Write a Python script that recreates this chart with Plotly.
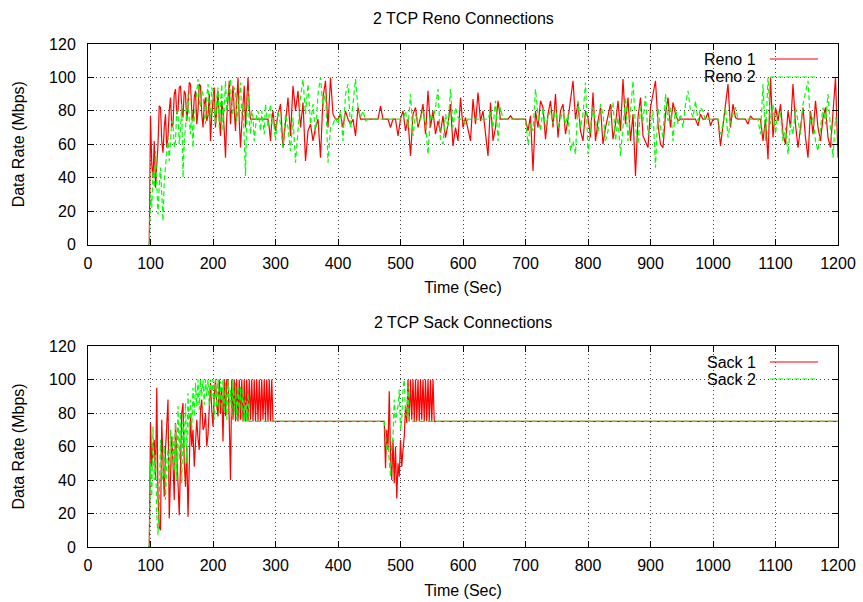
import plotly.graph_objects as go

# ---- measured throughput samples (Mbps) ----
# Reno run: 2 s samples through the start-up phase, 4 s samples afterwards
reno_t = list(range(96, 300, 2)) + list(range(300, 1201, 4))

reno1 = [
    0, 0, 77, 48, 40, 62, 34, 45, 60, 83,          # 96-114
    82, 62, 55, 70, 78, 58, 65, 80, 88, 70,        # 116-134
    72, 90, 93, 78, 80, 94, 95, 82, 76, 92,        # 136-154
    90, 74, 82, 97, 96, 80, 74, 88, 92, 72,        # 156-174
    80, 96, 95, 78, 70, 84, 88, 74, 77, 90,        # 176-194
    62, 78, 85, 94, 70, 80, 92, 75, 65, 86,        # 196-214
    80, 68, 52, 76, 88, 98, 72, 84, 95, 80,        # 216-234
    68, 86, 100, 74, 58, 72, 85, 95, 70, 82,       # 236-254
    100, 82, 75, 75, 75, 75, 75, 75, 75, 75,       # 256-274
    75, 75, 75, 75, 75, 75, 75, 70, 62, 74,        # 276-294
    80, 72,                                        # 296-298
    68, 78, 84, 58, 72, 88, 65, 95, 80, 92, 70, 85, 50, 68, 72, 62, 70, 75, 52, 88, 98, 70, 100, 78, 75,  # 300-396
    75, 78, 70, 80, 75, 72, 75, 65, 82, 75, 75, 75, 75, 75, 75, 75, 75, 83, 75, 75, 75, 70, 75, 75, 65,  # 400-496
    75, 80, 68, 75, 53, 78, 82, 70, 76, 84, 66, 92, 70, 80, 66, 74, 67, 77, 64, 72, 84, 59, 70, 62, 88,  # 500-596
    70, 76, 68, 62, 87, 72, 91, 74, 80, 66, 53, 85, 62, 70, 86, 75, 75, 75, 75, 77, 75, 75, 75, 75, 75,  # 600-696
    75, 68, 77, 44, 80, 70, 86, 82, 63, 78, 86, 70, 90, 64, 80, 84, 66, 75, 88, 98, 75, 85, 68, 62, 80,  # 700-796
    76, 64, 91, 62, 74, 82, 60, 70, 78, 84, 63, 72, 86, 68, 99, 72, 88, 62, 78, 41, 76, 88, 65, 62, 58,  # 800-896
    82, 90, 98, 72, 60, 58, 78, 88, 70, 85, 78, 74, 75, 75, 75, 75, 75, 75, 75, 71, 78, 75, 75, 79, 71,  # 900-996
    75, 75, 75, 59, 72, 86, 96, 70, 84, 76, 75, 75, 75, 75, 72, 77, 75, 75, 75, 75, 62, 75, 51, 100, 64,  # 1000-1096
    82, 74, 84, 66, 60, 80, 70, 96, 72, 58, 70, 82, 64, 52, 80, 66, 86, 70, 62, 76, 82, 64, 58, 78, 100, 52,  # 1100-1200
]

reno2 = [
    0, 0, 30, 22, 44, 34, 56, 40, 18, 35,          # 96-114
    46, 30, 14, 38, 48, 56, 64, 50, 60, 74,        # 116-134
    72, 58, 62, 80, 78, 60, 68, 84, 40, 62,        # 136-154
    70, 82, 90, 74, 66, 80, 58, 76, 85, 94,        # 156-174
    99, 86, 82, 92, 90, 78, 72, 88, 96, 84,        # 176-194
    76, 94, 90, 80, 72, 88, 94, 70, 82, 96,        # 196-214
    68, 84, 98, 80, 86, 92, 99, 76, 80, 94,        # 216-234
    92, 74, 80, 88, 97, 78, 84, 66, 41, 78,        # 236-254
    92, 74, 66, 80, 76, 62, 70, 78, 80, 72,        # 256-274
    68, 80, 72, 66, 84, 74, 70, 78, 84, 72,        # 276-294
    76, 70,                                        # 296-298
    62, 80, 72, 58, 78, 70, 56, 76, 49, 68, 88, 99, 78, 96, 72, 84, 66, 90, 100, 82, 92, 49, 70, 72, 76,  # 300-396
    72, 80, 62, 90, 96, 70, 84, 99, 82, 76, 80, 74, 75, 75, 75, 75, 75, 75, 75, 75, 75, 75, 75, 75, 75,  # 400-496
    75, 75, 80, 70, 90, 65, 78, 72, 75, 80, 72, 54, 78, 75, 82, 93, 62, 60, 78, 70, 93, 70, 82, 76, 75,  # 500-596
    75, 72, 75, 75, 75, 75, 75, 75, 75, 75, 75, 80, 70, 86, 62, 82, 75, 75, 75, 75, 75, 75, 75, 75, 75,  # 600-696
    75, 60, 72, 68, 93, 78, 68, 82, 70, 76, 80, 72, 82, 70, 75, 80, 72, 78, 56, 62, 54, 86, 70, 78, 97,  # 700-796
    54, 70, 82, 74, 66, 84, 78, 62, 68, 80, 85, 62, 76, 53, 72, 88, 62, 80, 98, 70, 60, 82, 74, 89, 66,  # 800-896
    70, 80, 46, 82, 70, 64, 90, 74, 82, 62, 82, 72, 78, 70, 84, 92, 80, 76, 86, 74, 82, 80, 74, 75, 75,  # 900-996
    75, 75, 75, 66, 72, 82, 64, 74, 78, 82, 75, 75, 75, 75, 75, 75, 75, 75, 75, 66, 96, 62, 100, 72, 84,  # 1000-1096
    66, 80, 78, 62, 70, 54, 72, 66, 82, 74, 66, 84, 92, 98, 72, 76, 62, 56, 70, 82, 72, 90, 70, 52, 76, 70,  # 1100-1200
]

# Sack run: 2 s samples during the two transients, steady 75 Mbps elsewhere
sack_t = list(range(96, 301, 2)) + list(range(470, 561, 2)) + [1200]

sack1 = [
    0, 0, 74, 48, 60, 64, 40, 95, 30, 12,          # 96-114
    10, 76, 50, 30, 58, 70, 88, 17, 40, 66,        # 116-134
    50, 28, 74, 60, 38, 19, 55, 80, 86, 50,        # 136-154
    36, 60, 18, 45, 78, 60, 70, 48, 62, 76,        # 156-174
    65, 58, 82, 88, 70, 72, 80, 60, 67, 85,        # 176-194
    98, 82, 72, 90, 100, 85, 78, 100, 80, 95,      # 196-214
    63, 100, 78, 100, 100, 75, 40, 100, 76, 100,   # 216-234
    75, 100, 75, 100, 76, 100, 75, 100, 75, 100,   # 236-254
    75, 100, 76, 100, 75, 100, 75, 100, 75, 100,   # 256-274
    75, 100, 76, 100, 75, 100, 75, 100, 75, 100,   # 276-294
    75, 75, 75,                                    # 296-300
    75, 75, 75, 47, 70, 58, 93, 54, 40, 64,        # 470-488
    38, 60, 29, 50, 42, 64, 48, 58, 66, 84,        # 490-508
    74, 100, 75, 100, 76, 100, 75, 100, 75, 100,   # 510-528
    75, 100, 76, 100, 75, 100, 75, 100, 75, 100,   # 530-548
    75, 100, 75, 75, 75, 75,                       # 550-560
    75,                                            # 1200
]

sack2 = [
    0, 0, 50, 30, 72, 40, 55, 20, 7, 26,           # 96-114
    64, 45, 40, 60, 28, 50, 58, 44, 70, 48,        # 116-134
    66, 45, 74, 40, 84, 52, 80, 38, 75, 60,        # 136-154
    86, 50, 92, 66, 88, 70, 95, 78, 98, 84,        # 156-174
    100, 82, 100, 90, 100, 85, 100, 90, 100, 84,   # 176-194
    100, 88, 100, 76, 100, 84, 100, 80, 99, 82,    # 196-214
    100, 80, 98, 76, 100, 84, 94, 78, 100, 80,     # 216-234
    98, 76, 95, 80, 96, 76, 94, 75, 88, 75,        # 236-254
    92, 75, 75, 75, 75, 75, 75, 75, 75, 75,        # 256-274
    75, 75, 75, 75, 75, 75, 75, 75, 75, 75,        # 276-294
    75, 75, 75,                                    # 296-300
    75, 75, 75, 68, 58, 62, 54, 42, 60, 66,        # 470-488
    88, 74, 80, 84, 94, 70, 76, 94, 100, 80,       # 490-508
    78, 96, 75, 75, 75, 75, 75, 75, 75, 75,        # 510-528
    75, 75, 75, 75, 75, 75, 75, 75, 75, 75,        # 530-548
    75, 75, 75, 75, 75, 75,                        # 550-560
    75,                                            # 1200
]

assert len(reno1) == len(reno_t) and len(reno2) == len(reno_t)
assert len(sack1) == len(sack_t) and len(sack2) == len(sack_t)

# ---- page geometry ----
W, H = 863, 602
M = dict(l=88, r=25, t=44, b=55)
PW = W - M["l"] - M["r"]
PH = H - M["t"] - M["b"]


def paper_y(px):
    return (H - M["b"] - px) / PH


def paper_x(px):
    return (px - M["l"]) / PW


FONT = "Liberation Sans, Arial, sans-serif"
RED = "#ff0000"
GREEN = "#00ff00"
DASH = "5px,3px"

fig = go.Figure()
fig.add_trace(go.Scatter(x=reno_t, y=reno1, mode="lines", name="Reno 1",
                         line=dict(color=RED, width=1.2), xaxis="x", yaxis="y"))
fig.add_trace(go.Scatter(x=reno_t, y=reno2, mode="lines", name="Reno 2",
                         line=dict(color=GREEN, width=1.2, dash=DASH), xaxis="x", yaxis="y"))
fig.add_trace(go.Scatter(x=sack_t, y=sack1, mode="lines", name="Sack 1",
                         line=dict(color=RED, width=1.2), xaxis="x2", yaxis="y2"))
fig.add_trace(go.Scatter(x=sack_t, y=sack2, mode="lines", name="Sack 2",
                         line=dict(color=GREEN, width=1.2, dash=DASH), xaxis="x2", yaxis="y2"))

axis_style = dict(
    showline=True, linecolor="black", linewidth=1, mirror="ticks",
    ticks="inside", ticklen=6, tickcolor="black", tickwidth=1,
    showgrid=True, gridcolor="#444444", griddash="1px,3px", gridwidth=1,
    zeroline=False, automargin=False,
    tickfont=dict(family=FONT, size=16, color="black"),
)
xstyle = dict(axis_style, range=[0, 1200], tick0=0, dtick=100, ticklabelstandoff=4,
              title=dict(text="Time (Sec)", font=dict(family=FONT, size=16, color="black"), standoff=11))
ystyle = dict(axis_style, range=[0, 120], tick0=0, dtick=20, ticklabelstandoff=8,
              title=dict(text="Data Rate (Mbps)", font=dict(family=FONT, size=16, color="black"), standoff=20))

top_dom = [paper_y(244.5), 1]
bot_dom = [0, paper_y(346)]

fig.update_layout(
    width=W, height=H, margin=M, autosize=False,
    paper_bgcolor="white", plot_bgcolor="white",
    font=dict(family=FONT, size=16, color="black"),
    showlegend=False,
    xaxis=dict(xstyle, domain=[0, 1], anchor="y"),
    yaxis=dict(ystyle, domain=top_dom, anchor="x"),
    xaxis2=dict(xstyle, domain=[0, 1], anchor="y2"),
    yaxis2=dict(ystyle, domain=bot_dom, anchor="x2"),
)

annotations = [
    dict(text="2 TCP Reno Connections", x=0.5, y=paper_y(18)),
    dict(text="2 TCP Sack Connections", x=0.5, y=paper_y(322)),
]
shapes = []
# key entries: label right-aligned, line sample to its right
key_rows = [("Reno 1", RED, "solid", 59), ("Reno 2", GREEN, DASH, 77),
            ("Sack 1", RED, "solid", 362), ("Sack 2", GREEN, DASH, 379)]
for label, color, dash, row in key_rows:
    annotations.append(dict(text=label, x=paper_x(758), y=paper_y(row), xanchor="right"))
    shapes.append(dict(type="line", xref="paper", yref="paper",
                       x0=paper_x(770), x1=paper_x(818), y0=paper_y(row), y1=paper_y(row),
                       line=dict(color=color, width=1.2, dash=dash)))

for a in annotations:
    a.setdefault("xanchor", "center")
    a.update(xref="paper", yref="paper", yanchor="middle", showarrow=False,
             font=dict(family=FONT, size=16, color="black"))

fig.update_layout(annotations=annotations, shapes=shapes)
fig.write_html("out.html")
